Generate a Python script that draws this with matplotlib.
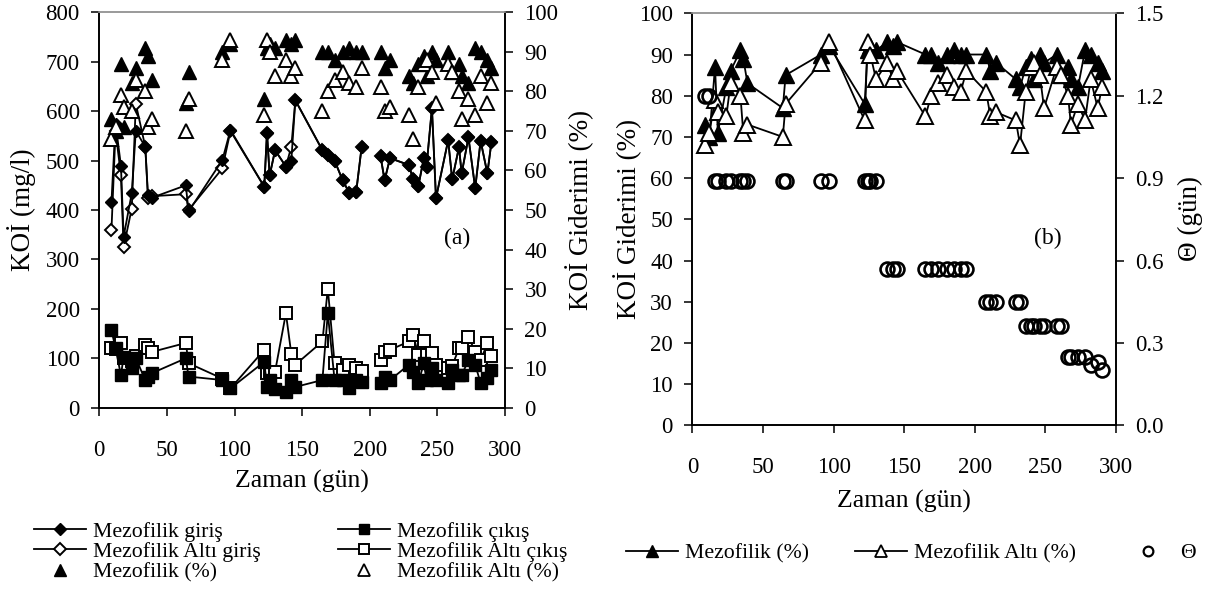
import numpy as np
import matplotlib.pyplot as plt
from matplotlib.lines import Line2D

plt.rcParams['font.family'] = ['Liberation Serif', 'DejaVu Serif']
plt.rcParams['xtick.major.pad'] = 17
plt.rcParams['ytick.major.pad'] = 8
plt.rcParams['xtick.major.size'] = 6
plt.rcParams['ytick.major.size'] = 6
plt.rcParams['xtick.labelsize'] = 16.5
plt.rcParams['ytick.labelsize'] = 16.5

# sampling days (gün)
gun = np.array([9, 12, 16, 18, 24, 27, 34, 36, 39, 64, 66, 91, 97, 122, 124, 126, 130,
                138, 142, 145, 165, 169, 174, 180, 185, 190, 194, 208, 211, 215, 229,
                232, 236, 240, 242, 246, 249, 258, 261, 266, 268, 273, 278, 282, 287, 290])

# KOİ (mg/l)
giris_m = np.array([417, 575, 490, 346, 434, 560, 528, 430, 425, 450, 397, 501, 562, 447, 556,
                    470, 521, 488, 500, 622, 521, 512, 500, 460, 434, 437, 527, 509, 460, 505,
                    491, 462, 449, 505, 488, 606, 424, 541, 462, 527, 474, 547, 444, 540, 474, 537])
giris_a = np.array([360, 560, 470, 325, 403, 615, 528, 425, 428, 432, 400, 484, 560, 447, 556,
                    470, 521, 488, 528, 622, 521, 512, 500, 460, 434, 437, 527, 509, 460, 505,
                    491, 462, 449, 505, 488, 606, 424, 541, 462, 527, 474, 547, 444, 540, 474, 537])
cikis_m = np.array([157, 120, 66, 103, 80, 100, 56, 62, 70, 100, 63, 56, 39, 93, 42, 57, 37, 32,
                    56, 42, 56, 191, 56, 56, 39, 56, 52, 50, 63, 56, 87, 73, 50, 90, 56, 80, 56,
                    50, 76, 66, 66, 96, 87, 50, 60, 76])
cikis_a = np.array([120, 118, 130, 100, 95, 105, 127, 120, 113, 131, 90, 59, 39, 117, 70, 73, 73,
                    191, 109, 87, 134, 241, 90, 76, 87, 80, 75, 97, 113, 117, 134, 148, 107, 134,
                    107, 110, 87, 80, 85, 120, 120, 144, 113, 96, 130, 105])

# KOİ giderimi (%)
pct_m = np.array([73, 70, 87, 71, 82, 86, 91, 89, 83, 77, 85, 90, 92, 78, 91, 92, 91, 93, 92, 93,
                  90, 90, 88, 90, 91, 90, 90, 90, 86, 88, 84, 82, 87, 89, 84, 90, 88, 90, 85, 87,
                  84, 82, 91, 90, 88, 86])
pct_a = np.array([68, 71, 79, 76, 75, 83, 80, 71, 73, 70, 78, 88, 93, 74, 93, 90, 84, 88, 84, 86,
                  75, 80, 83, 85, 82, 81, 86, 81, 75, 76, 74, 68, 81, 87, 88, 85, 77, 87, 85, 80,
                  73, 78, 74, 84, 77, 82])

# hidraulik bekleme süresi (gün)
theta = np.array([1.2, 1.2, 0.89, 0.89, 0.89, 0.89, 0.89, 0.89, 0.89, 0.89, 0.89, 0.89, 0.89,
                  0.89, 0.89, 0.89, 0.89, 0.57, 0.57, 0.57, 0.57, 0.57, 0.57, 0.57, 0.57, 0.57,
                  0.57, 0.45, 0.45, 0.45, 0.45, 0.45, 0.36, 0.36, 0.36, 0.36, 0.36, 0.36, 0.36,
                  0.25, 0.25, 0.25, 0.25, 0.22, 0.23, 0.20])

LAB = 19.5

fig = plt.figure(figsize=(12.08, 5.92), dpi=100)


def style(ax):
    for s in ('left', 'right', 'bottom'):
        ax.spines[s].set_linewidth(1.2)
    ax.spines['top'].set_color('#9a9a9a')
    ax.spines['top'].set_linewidth(1.2)
    ax.tick_params(direction='out', width=1.1)


kw_line = dict(color='black', lw=1.3)

# ---------------- (a) ----------------
ax1 = fig.add_axes([0.0822, 0.3113, 0.3358, 0.6679])
ax1r = ax1.twinx()
for seg in (gun < 200, gun > 200):
    ax1.plot(gun[seg], giris_a[seg], marker='D', ms=6.5, mfc='white', mec='black', mew=1.4, **kw_line)
    ax1.plot(gun[seg], giris_m[seg], marker='D', ms=6.5, mfc='black', mec='black', **kw_line)
    ax1.plot(gun[seg], cikis_a[seg], marker='s', ms=8, mfc='white', mec='black', mew=1.4, **kw_line)
    ax1.plot(gun[seg], cikis_m[seg], marker='s', ms=8, mfc='black', mec='black', **kw_line)
ax1r.plot(gun, pct_m, ls='none', marker='^', ms=10, mfc='black', mec='black')
ax1r.plot(gun, pct_a, ls='none', marker='^', ms=10, mfc='white', mec='black', mew=1.4)

ax1.set_xlim(0, 300)
ax1.set_ylim(0, 800)
ax1r.set_ylim(0, 100)
ax1.set_xticks(np.arange(0, 301, 50))
ax1.set_yticks(np.arange(0, 801, 100))
ax1r.set_yticks(np.arange(0, 101, 10))
style(ax1)
style(ax1r)
ax1.set_xlabel('Zaman (gün)', fontsize=18.5, va='center')
ax1.xaxis.set_label_coords(0.5, -0.187)
ax1.set_ylabel('KOİ (mg/l)', fontsize=LAB, va='center')
ax1.yaxis.set_label_coords(-0.192, 0.5)
ax1r.set_ylabel('KOİ Giderimi (%)', fontsize=LAB, va='center')
ax1r.yaxis.set_label_coords(1.185, 0.5)
ax1.text(0.882, 0.429, '(a)', transform=ax1.transAxes, fontsize=17, ha='center', va='center')

# ---------------- (b) ----------------
ax2 = fig.add_axes([0.5732, 0.2816, 0.3507, 0.6959])
ax2r = ax2.twinx()
ax2.plot(gun, pct_m, marker='^', ms=11, mfc='black', mec='black', **kw_line)
ax2.plot(gun, pct_a, marker='^', ms=11, mfc='white', mec='black', mew=1.4, **kw_line)
ax2r.plot(gun, theta, ls='none', marker='o', ms=10, mfc='none', mec='black', mew=1.9)

ax2.set_xlim(0, 300)
ax2.set_ylim(0, 100)
ax2r.set_ylim(0, 1.5)
ax2.set_xticks(np.arange(0, 301, 50))
ax2.set_yticks(np.arange(0, 101, 10))
ax2r.set_yticks(np.arange(0, 1.51, 0.3))
ax2r.set_yticklabels([f'{v:.1f}' for v in np.arange(0, 1.51, 0.3)])
style(ax2)
style(ax2r)
ax2.set_xlabel('Zaman (gün)', fontsize=18.5, va='center')
ax2.xaxis.set_label_coords(0.5, -0.185)
ax2.set_ylabel('KOİ Giderimi (%)', fontsize=LAB, va='center')
ax2.yaxis.set_label_coords(-0.152, 0.5)
ax2r.set_ylabel('Θ (gün)', fontsize=LAB, va='center')
ax2r.yaxis.set_label_coords(1.175, 0.503)
ax2.text(0.838, 0.454, '(b)', transform=ax2.transAxes, fontsize=17, ha='center', va='center')

# ---------------- legends ----------------
h_left = [
    Line2D([], [], marker='D', ms=6.5, mfc='black', mec='black', **kw_line),
    Line2D([], [], marker='D', ms=6.5, mfc='white', mec='black', mew=1.4, **kw_line),
    Line2D([], [], ls='none', marker='^', ms=8, mfc='black', mec='black'),
    Line2D([], [], marker='s', ms=7.5, mfc='black', mec='black', **kw_line),
    Line2D([], [], marker='s', ms=7.5, mfc='white', mec='black', mew=1.4, **kw_line),
    Line2D([], [], ls='none', marker='^', ms=8, mfc='white', mec='black', mew=1.3),
]
l_left = ['Mezofilik giriş', 'Mezofilik Altı giriş', 'Mezofilik (%)',
          'Mezofilik çıkış', 'Mezofilik Altı çıkış', 'Mezofilik Altı (%)']
fig.legend(h_left, l_left, loc='upper left', bbox_to_anchor=(34 / 1208, 1 - 521.5 / 592),
           ncol=2, frameon=False, fontsize=15.7, handlelength=2.4, handletextpad=0.3,
           columnspacing=3.55, labelspacing=0.0, borderpad=0, borderaxespad=0)

h_right = [
    Line2D([], [], marker='^', ms=8, mfc='black', mec='black', **kw_line),
    Line2D([], [], marker='^', ms=8, mfc='white', mec='black', mew=1.3, **kw_line),
    Line2D([], [], ls='none', marker='o', ms=7, mfc='none', mec='black', mew=1.6),
]
l_right = ['Mezofilik (%)', 'Mezofilik Altı (%)', 'Θ']
fig.legend(h_right, l_right, loc='upper left', bbox_to_anchor=(626 / 1208, 1 - 543 / 592),
           ncol=3, frameon=False, fontsize=15.7, handlelength=2.4, handletextpad=0.3,
           columnspacing=2.1, borderpad=0, borderaxespad=0)

fig.savefig('out.png', dpi=100)
